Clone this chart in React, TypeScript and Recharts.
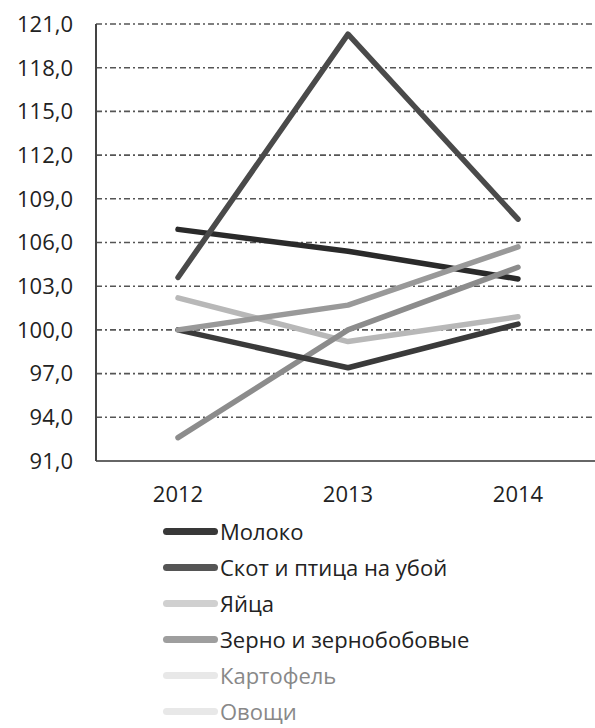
import { LineChart, Line, XAxis, YAxis, CartesianGrid } from "recharts";

const years = ["2012", "2013", "2014"];

const milk = [106.9, 105.4, 103.5];
const livestock = [103.6, 120.3, 107.6];
const eggs = [102.2, 99.2, 100.9];
const grain = [92.6, 100.0, 104.3];
const potatoes = [100.0, 97.4, 100.4];
const vegetables = [100.0, 101.7, 105.7];

const yTicks = [91, 94, 97, 100, 103, 106, 109, 112, 115, 118, 121];

const series = [
  { key: "milk", name: "Молоко", values: milk, color: "#2a2a2a", legendColor: "#383838", textColor: "#222" },
  { key: "livestock", name: "Скот и птица на убой", values: livestock, color: "#4a4a4a", legendColor: "#555555", textColor: "#222" },
  { key: "eggs", name: "Яйца", values: eggs, color: "#b8b8b8", legendColor: "#d0d0d0", textColor: "#222" },
  { key: "grain", name: "Зерно и зернобобовые", values: grain, color: "#8c8c8c", legendColor: "#9e9e9e", textColor: "#222" },
  { key: "potatoes", name: "Картофель", values: potatoes, color: "#3a3a3a", legendColor: "#e8e8e8", textColor: "#888" },
  { key: "vegetables", name: "Овощи", values: vegetables, color: "#999999", legendColor: "#e8e8e8", textColor: "#888" },
];

const data = years.map((year, i) => {
  const row: Record<string, string | number> = { year };
  series.forEach((s) => {
    row[s.key] = s.values[i];
  });
  return row;
});

const font = "'Open Sans', sans-serif";

export default function App() {
  return (
    <div style={{ position: "absolute", left: 0, top: 0, width: 595, height: 728, background: "#fff", fontFamily: font, overflow: "hidden" }}>
      <LineChart width={595} height={520} data={data} margin={{ top: 24, right: 0, bottom: 0, left: 0 }}>
        <CartesianGrid vertical={false} stroke="#555" strokeWidth={1.6} strokeDasharray="6 3 2 3" />
        <XAxis
          dataKey="year"
          height={59}
          padding={{ left: 82, right: 77 }}
          tickSize={0}
          tickMargin={25}
          axisLine={{ stroke: "#666", strokeWidth: 2 }}
          tick={{ fontSize: 22, fill: "#222", fontFamily: font }}
        />
        <YAxis
          width={96}
          domain={[91, 121]}
          ticks={yTicks}
          interval={0}
          tickSize={0}
          tickMargin={23}
          axisLine={{ stroke: "#444", strokeWidth: 2 }}
          tick={{ fontSize: 22, fill: "#222", fontFamily: font }}
          tickFormatter={(v: number) => v.toFixed(1).replace(".", ",")}
        />
        {series.map((s) => (
          <Line
            key={s.key}
            dataKey={s.key}
            name={s.name}
            type="linear"
            stroke={s.color}
            strokeWidth={5.5}
            strokeLinecap="round"
            strokeLinejoin="round"
            dot={false}
            isAnimationActive={false}
          />
        ))}
      </LineChart>
      <div style={{ position: "absolute", left: 163, top: 513 }}>
        {series.map((s) => (
          <div key={s.key} style={{ display: "flex", alignItems: "center", height: 36 }}>
            <span
              style={{
                display: "inline-block",
                width: 55,
                height: 7,
                borderRadius: 3.5,
                background: s.legendColor,
                marginRight: 2,
              }}
            />
            <span style={{ fontSize: 22, lineHeight: "26px", color: s.textColor, whiteSpace: "nowrap" }}>{s.name}</span>
          </div>
        ))}
      </div>
    </div>
  );
}
